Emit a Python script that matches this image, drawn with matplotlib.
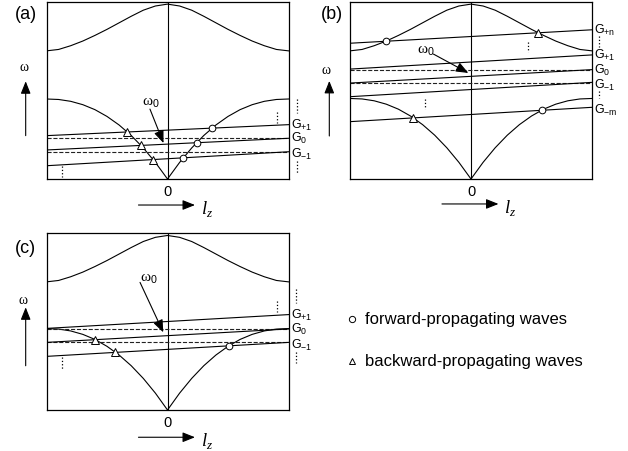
import numpy as np
import matplotlib
matplotlib.use('Agg')
import matplotlib.pyplot as plt
from matplotlib.lines import Line2D

plt.rcParams['font.family'] = ['Liberation Sans', 'DejaVu Sans']
plt.rcParams['mathtext.fontset'] = 'custom'
plt.rcParams['mathtext.rm'] = 'Liberation Sans'
plt.rcParams['mathtext.it'] = 'Liberation Serif:italic'
plt.rcParams['mathtext.sf'] = 'Liberation Serif'
plt.rcParams['mathtext.default'] = 'rm'

# l_z samples across the zone, band shapes (0 = edge, 1 = peak)
kz = np.linspace(-1, 1, 21)
upper_shape = [0, .03, .11, .21, .33, .46, .60, .74, .87, .96, 1,
               .96, .87, .74, .60, .46, .33, .21, .11, .03, 0]
lower_shape = [1, .994, .971, .929, .867, .782, .675, .544, .388, .207, 0,
               .207, .388, .544, .675, .782, .867, .929, .971, .994, 1]

# panel (a)
a_upper = (0.724, 0.988)          # zone edge, centre
a_lower = 0.452                   # zone edge
a_lines = [(0.245, 0.307), (0.164, 0.230), (0.075, 0.154)]   # left end, right end
a_names = ['+1', '0', '-1']
a_dashed = [0.232, 0.151]
a_marks = [(0, 'lower', -1, '^'), (1, 'lower', -1, '^'), (2, 'lower', -1, '^'),
           (0, 'lower', 1, 'o'), (1, 'lower', 1, 'o'), (2, 'lower', 1, 'o')]

# panel (b)
b_upper = (0.724, 0.988)
b_lower = 0.455
b_lines = [(0.767, 0.843), (0.621, 0.701), (0.542, 0.618), (0.465, 0.546), (0.324, 0.405)]
b_names = ['+n', '+1', '0', '-1', '-m']
b_dashed = [0.618, 0.542]
b_marks = [(0, 'upper', -1, 'o'), (0, 'upper', 1, '^'),
           (4, 'lower', -1, '^'), (4, 'lower', 1, 'o')]

# panel (c)
c_upper = (0.724, 0.986)
c_lower = 0.46
c_lines = [(0.461, 0.539), (0.382, 0.458), (0.303, 0.382)]
c_names = ['+1', '0', '-1']
c_dashed = [0.458, 0.382]
c_marks = [(1, 'lower', -1, '^'), (2, 'lower', -1, '^'), (2, 'lower', 1, 'o')]

legend_labels = ['forward-propagating waves', 'backward-propagating waves']


def line_at(x, yl, yr):
    return yl + (yr - yl) * (np.asarray(x) + 1) / 2


def crossing(band, yl, yr, side):
    d = band - line_at(kz, yl, yr)
    idx = np.arange(10, 21) if side > 0 else np.arange(10, -1, -1)
    for i, j in zip(idx[:-1], idx[1:]):
        if d[i] * d[j] <= 0 and d[i] != d[j]:
            t = d[i] / (d[i] - d[j])
            x = kz[i] + t * (kz[j] - kz[i])
            return x, line_at(x, yl, yr)
    return None


def arrow(ax, tail, head):
    ax.annotate('', xy=head, xytext=tail, annotation_clip=False,
                arrowprops=dict(arrowstyle='-|>,head_length=0.75,head_width=0.3',
                                color='k', lw=0.8, mutation_scale=10,
                                shrinkA=0, shrinkB=0))


def draw_panel(ax, tag, upper, lower, lines, names, dashed, marks, lay):
    up = upper[0] + (upper[1] - upper[0]) * np.array(upper_shape)
    lo = lower * np.array(lower_shape)
    bands = {'upper': up, 'lower': lo}
    ax.plot(kz, up, color='k', lw=0.8)
    ax.plot(kz, lo, color='k', lw=0.8)
    ax.axvline(0, color='k', lw=0.8)
    for y in dashed:
        ax.plot([-1, 1], [y, y], color='#222222', lw=0.8, ls='--')
    for (yl, yr), nm in zip(lines, names):
        ax.plot([-1, 1], [yl, yr], color='k', lw=0.8)
        off = 0.03 if nm.startswith('-') else 0.017
        ax.text(1.02, yr - off, r'$\mathrm{G}_{%s}$' % nm, fontsize=9,
                ha='left', va='baseline', clip_on=False)
    for li, band, side, m in marks:
        p = crossing(bands[band], lines[li][0], lines[li][1], side)
        if p is not None:
            ax.plot(p[0], p[1], marker=m, ms=5.2 if m == '^' else 4.8,
                    mfc='white', mec='k', mew=0.7, zorder=5)
    for x, y0, y1 in lay['inner']:
        ax.plot([x, x], [y0, y1], color='k', lw=0.9, ls=':')
    for y0, y1 in lay['outer']:
        ax.plot([lay['outer_x']] * 2, [y0, y1], color='k', lw=0.9, ls=':',
                clip_on=False)

    ax.text(lay['w0'][0], lay['w0'][1], r'$\mathsf{\omega}_{0}$', fontsize=11,
            ha='center', va='center')
    arrow(ax, lay['w0_tail'], lay['w0_head'])

    ax.text(lay['tag'][0], lay['tag'][1], tag, fontsize=13, ha='center', va='center')
    ax.text(lay['omega'][0], lay['omega'][1], 'ω', family='Liberation Serif',
            fontsize=10, ha='center', va='center')
    ux, uy0, uy1 = lay['up']
    arrow(ax, (ux, uy0), (ux, uy1))
    ax.text(0, -0.07, '0', fontsize=10.5, ha='center', va='center')
    ry = lay['right_y']
    arrow(ax, (-0.24, ry), (0.227, ry))
    ax.text(0.275, ry - 0.045, r'$\mathit{l}_{\mathit{z}}$', fontsize=13.5,
            ha='left', va='baseline')

    ax.set_xlim(-1, 1)
    ax.set_ylim(0, 1)
    ax.set_xticks([])
    ax.set_yticks([])
    for s in ax.spines.values():
        s.set_linewidth(0.9)


fig = plt.figure(figsize=(6.28, 4.52), dpi=100)
W, H = 628, 452
ax_a = fig.add_axes([46.5 / W, (H - 180) / H, 242 / W, 177 / H])
ax_b = fig.add_axes([350 / W, (H - 180) / H, 242 / W, 177 / H])
ax_c = fig.add_axes([46.5 / W, (H - 411) / H, 242 / W, 177 / H])

lay_a = dict(tag=(-1.174, 0.935), omega=(-1.19, 0.634), up=(-1.172, 0.245, 0.552),
             w0=(-0.14, 0.438), w0_tail=(-0.145, 0.395), w0_head=(-0.033, 0.203),
             inner=[(-0.874, 0.075, 0.01), (0.902, 0.379, 0.316)],
             outer_x=1.07, outer=[(0.45, 0.375), (0.1, 0.035)], right_y=-0.147)
lay_b = dict(tag=(-1.153, 0.935), omega=(-1.195, 0.621), up=(-1.171, 0.243, 0.554),
             w0=(-0.375, 0.729), w0_tail=(-0.311, 0.706), w0_head=(-0.022, 0.599),
             inner=[(0.474, 0.774, 0.718), (-0.38, 0.452, 0.395)],
             outer_x=1.058, outer=[(0.808, 0.745), (0.5, 0.455)], right_y=-0.141)
lay_c = dict(tag=(-1.174, 0.919), omega=(-1.195, 0.627), up=(-1.172, 0.25, 0.58),
             w0=(-0.155, 0.745), w0_tail=(-0.227, 0.721), w0_head=(-0.035, 0.439),
             inner=[(-0.874, 0.298, 0.232), (0.902, 0.617, 0.555)],
             outer_x=1.062, outer=[(0.684, 0.605), (0.325, 0.265)], right_y=-0.154)

draw_panel(ax_a, '(a)', a_upper, a_lower, a_lines, a_names, a_dashed, a_marks, lay_a)
draw_panel(ax_b, '(b)', b_upper, b_lower, b_lines, b_names, b_dashed, b_marks, lay_b)
draw_panel(ax_c, '(c)', c_upper, c_lower, c_lines, c_names, c_dashed, c_marks, lay_c)

# legend
for lab, m, py in zip(legend_labels, ['o', '^'], [320, 361.7]):
    fig.add_artist(Line2D([351.7 / W], [(H - py) / H], marker=m, ms=4.5,
                          mfc='white', mec='k', mew=0.7, ls='none',
                          transform=fig.transFigure))
    fig.text(365 / W, (H - py) / H, lab, fontsize=12, ha='left', va='center')

fig.savefig('out.png', dpi=100)
